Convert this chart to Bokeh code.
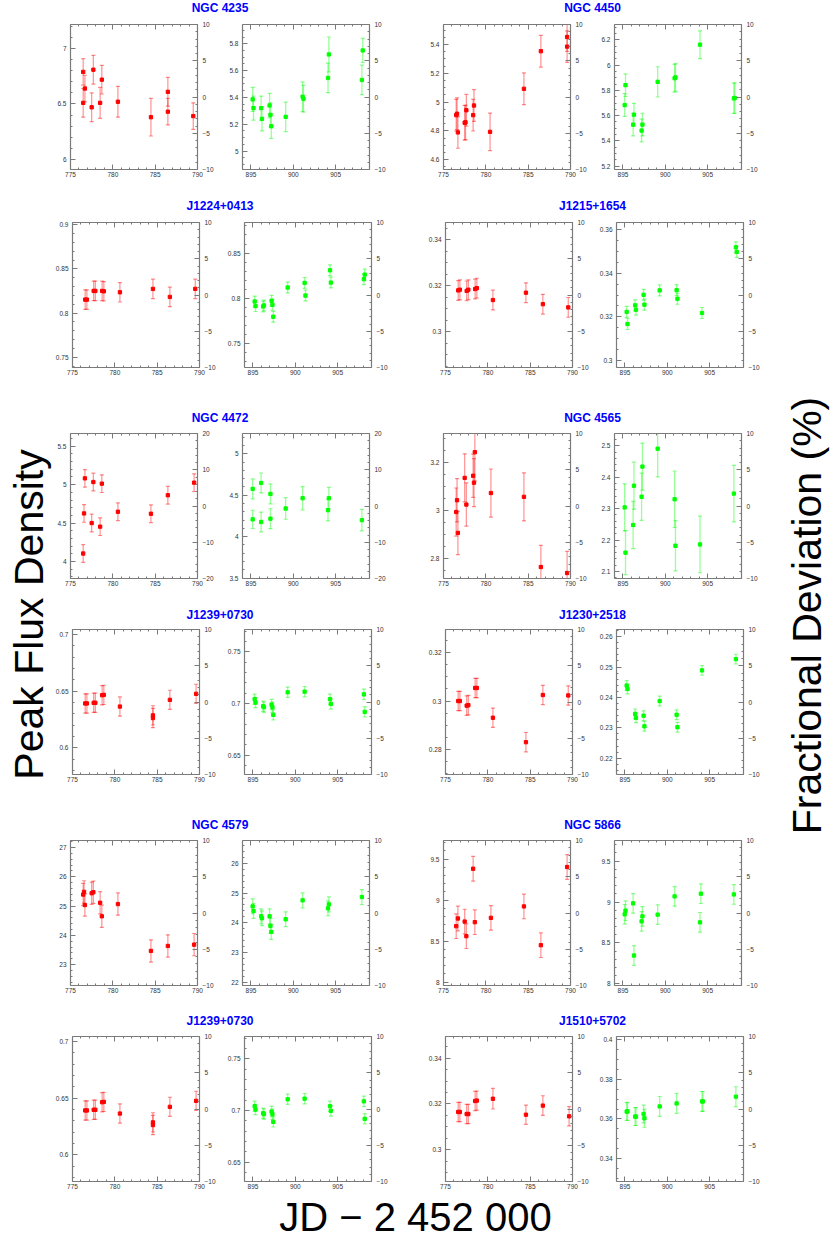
import numpy as np
from bokeh.plotting import figure
from bokeh.models import (Range1d, LinearAxis, FixedTicker, CustomJSTickFormatter, Label,
                          CustomLabelingPolicy)
from bokeh.layouts import row, column
from bokeh.embed import file_html
from bokeh.resources import INLINE

# ---------------- data ----------------
red_xlim = [775, 790]
green_xlim = [894, 909]
red_xticks = [775, 780, 785, 790]
green_xticks = [895, 900, 905]

# NGC 4235
ngc4235_red_jd = [776.5, 776.5, 776.7, 777.5, 777.7, 778.5, 778.7, 780.6, 784.5, 786.5, 786.5, 789.5]
ngc4235_red_flux = [6.51, 6.79, 6.64, 6.47, 6.81, 6.51, 6.72, 6.52, 6.38, 6.61, 6.43, 6.39]
ngc4235_red_err = [0.13, 0.12, 0.12, 0.13, 0.13, 0.14, 0.13, 0.14, 0.17, 0.13, 0.12, 0.12]
ngc4235_red_mean = 6.563
ngc4235_red_ticks = [6, 6.5, 7]
ngc4235_green_jd = [895.2, 895.3, 896.2, 896.3, 897.2, 897.3, 897.4, 899.1, 901.1, 901.2, 904.1, 904.2, 908.1, 908.2]
ngc4235_green_flux = [5.385, 5.32, 5.32, 5.24, 5.34, 5.27, 5.185, 5.255, 5.405, 5.39, 5.545, 5.72, 5.53, 5.75]
ngc4235_green_err = [0.09, 0.09, 0.09, 0.09, 0.09, 0.09, 0.09, 0.11, 0.11, 0.10, 0.11, 0.13, 0.11, 0.09]
ngc4235_green_mean = 5.403
ngc4235_green_ticks = [5, 5.2, 5.4, 5.6, 5.8]

# NGC 4450
ngc4450_red_jd = [776.5, 776.6, 776.7, 777.5, 777.6, 777.7, 778.5, 778.6, 780.5, 784.5, 786.5, 789.6, 789.6]
ngc4450_red_flux = [4.91, 4.92, 4.79, 4.857, 4.86, 4.944, 4.91, 4.977, 4.794, 5.093, 5.354, 5.386, 5.453]
ngc4450_red_err = [0.11, 0.11, 0.11, 0.12, 0.12, 0.11, 0.11, 0.11, 0.13, 0.11, 0.11, 0.11, 0.10]
ngc4450_red_mean = 5.036
ngc4450_red_ticks = [4.6, 4.8, 5, 5.2, 5.4]
ngc4450_green_jd = [895.2, 895.3, 896.2, 896.3, 897.2, 897.3, 899.1, 901.1, 901.2, 904.1, 908.1, 908.2]
ngc4450_green_flux = [5.684, 5.842, 5.529, 5.608, 5.482, 5.529, 5.868, 5.897, 5.903, 6.163, 5.737, 5.74]
ngc4450_green_err = [0.09, 0.09, 0.09, 0.09, 0.09, 0.09, 0.12, 0.11, 0.11, 0.11, 0.12, 0.12]
ngc4450_green_mean = 5.748
ngc4450_green_ticks = [5.2, 5.4, 5.6, 5.8, 6, 6.2]

# J1224+0413
j1224_red_jd = [776.5, 776.7, 777.5, 777.7, 778.5, 778.7, 780.6, 784.5, 786.5, 789.5]
j1224_red_flux = [0.8153, 0.8153, 0.8251, 0.8251, 0.8251, 0.8247, 0.8236, 0.8274, 0.8183, 0.8274]
j1224_red_err = [0.011, 0.011, 0.011, 0.011, 0.011, 0.011, 0.011, 0.011, 0.011, 0.011]
j1224_red_mean = 0.8205
j1224_red_ticks = [0.75, 0.8, 0.85, 0.9]
j1224_green_jd = [895.2, 895.3, 896.2, 896.3, 897.2, 897.3, 897.4, 899.1, 901.1, 901.2, 904.1, 904.2, 908.1, 908.2]
j1224_green_flux = [0.7963, 0.7912, 0.7908, 0.7919, 0.7971, 0.7926, 0.7794, 0.8118, 0.8169, 0.8029, 0.8309, 0.8173, 0.8210, 0.8261]
j1224_green_err = [0.006, 0.006, 0.006, 0.006, 0.006, 0.006, 0.006, 0.006, 0.006, 0.006, 0.006, 0.006, 0.006, 0.006]
j1224_green_mean = 0.8035
j1224_green_ticks = [0.75, 0.8, 0.85]

# J1215+1654
j1215_red_jd = [776.5, 776.7, 777.5, 777.7, 778.5, 778.7, 780.6, 784.5, 786.5, 789.5]
j1215_red_flux = [0.318, 0.3183, 0.3178, 0.3183, 0.3186, 0.319, 0.3138, 0.317, 0.312, 0.3106]
j1215_red_err = [0.0043, 0.0043, 0.0043, 0.0043, 0.0043, 0.0043, 0.0043, 0.0043, 0.0043, 0.0043]
j1215_red_mean = 0.316
j1215_red_ticks = [0.3, 0.32, 0.34]
j1215_green_jd = [895.2, 895.3, 896.2, 896.3, 897.2, 897.3, 899.1, 901.1, 901.2, 904.1, 908.1, 908.2]
j1215_green_flux = [0.3223, 0.3168, 0.3253, 0.3233, 0.3301, 0.3256, 0.3321, 0.3322, 0.3283, 0.3218, 0.3517, 0.3496]
j1215_green_err = [0.0025, 0.0025, 0.0025, 0.0025, 0.0025, 0.0025, 0.0025, 0.0025, 0.0025, 0.0025, 0.0025, 0.0025]
j1215_green_mean = 0.33
j1215_green_ticks = [0.3, 0.32, 0.34, 0.36]

# NGC 4472
ngc4472_red_jd = [776.5, 776.6, 776.7, 777.5, 777.7, 778.5, 778.7, 780.6, 784.5, 786.5, 789.6]
ngc4472_red_flux = [4.103, 4.625, 5.082, 4.5, 5.034, 4.453, 5.013, 4.647, 4.621, 4.862, 5.026]
ngc4472_red_err = [0.115, 0.115, 0.115, 0.115, 0.115, 0.115, 0.115, 0.115, 0.115, 0.115, 0.115]
ngc4472_red_mean = 4.722
ngc4472_red_ticks = [4, 4.5, 5, 5.5]
ngc4472_green_jd = [895.2, 895.2, 896.2, 896.2, 897.3, 897.3, 899.1, 901.1, 904.1, 904.2, 908.1]
ngc4472_green_flux = [4.576, 4.209, 4.648, 4.177, 4.516, 4.217, 4.34, 4.464, 4.32, 4.464, 4.2]
ngc4472_green_err = [0.12, 0.11, 0.12, 0.12, 0.12, 0.12, 0.13, 0.14, 0.13, 0.13, 0.13]
ngc4472_green_mean = 4.37
ngc4472_green_ticks = [3.5, 4, 4.5, 5]

# NGC 4565
ngc4565_red_jd = [776.5, 776.6, 776.7, 777.5, 777.7, 778.5, 778.6, 778.7, 780.6, 784.5, 786.5, 789.6]
ngc4565_red_flux = [2.993, 3.042, 2.906, 3.135, 3.024, 3.144, 3.115, 3.242, 3.072, 3.056, 2.764, 2.739]
ngc4565_red_err = [0.10, 0.09, 0.09, 0.10, 0.09, 0.09, 0.10, 0.12, 0.10, 0.10, 0.09, 0.09]
ngc4565_red_mean = 3.018
ngc4565_red_ticks = [2.8, 3, 3.2]
ngc4565_green_jd = [895.2, 895.3, 896.2, 896.3, 897.2, 897.3, 899.1, 901.1, 901.2, 904.1, 908.1]
ngc4565_green_flux = [2.304, 2.16, 2.248, 2.373, 2.338, 2.434, 2.491, 2.33, 2.182, 2.186, 2.348]
ngc4565_green_err = [0.075, 0.07, 0.075, 0.075, 0.075, 0.075, 0.09, 0.09, 0.08, 0.09, 0.09]
ngc4565_green_mean = 2.3085
ngc4565_green_ticks = [2.1, 2.2, 2.3, 2.4, 2.5]

# J1239+0730
j1239_red_jd = [776.5, 776.7, 777.5, 777.7, 778.5, 778.7, 780.6, 784.5, 784.5, 786.5, 789.6]
j1239_red_flux = [0.6392, 0.6392, 0.6398, 0.6398, 0.6465, 0.6468, 0.6365, 0.6287, 0.6263, 0.6424, 0.6477]
j1239_red_err = [0.0085, 0.0085, 0.0085, 0.0085, 0.0085, 0.0085, 0.0085, 0.0085, 0.0085, 0.0085, 0.0085]
j1239_red_mean = 0.6405
j1239_red_ticks = [0.6, 0.65, 0.7]
j1239_green_jd = [895.2, 895.3, 896.2, 896.3, 897.2, 897.3, 897.4, 899.1, 901.1, 904.1, 904.2, 908.1, 908.2]
j1239_green_flux = [0.7042, 0.701, 0.6974, 0.6965, 0.699, 0.6965, 0.6891, 0.7109, 0.7115, 0.7042, 0.6997, 0.7089, 0.692]
j1239_green_err = [0.005, 0.005, 0.005, 0.005, 0.005, 0.005, 0.005, 0.005, 0.005, 0.005, 0.005, 0.005, 0.005]
j1239_green_mean = 0.7015
j1239_green_ticks = [0.65, 0.7, 0.75]

# J1230+2518
j1230_red_jd = [776.5, 776.7, 777.5, 777.7, 778.5, 778.7, 780.6, 784.5, 786.5, 789.5]
j1230_red_flux = [0.3, 0.3, 0.2981, 0.2983, 0.3054, 0.3054, 0.2931, 0.283, 0.3025, 0.3023]
j1230_red_err = [0.004, 0.004, 0.004, 0.004, 0.004, 0.004, 0.004, 0.004, 0.004, 0.004]
j1230_red_mean = 0.2996
j1230_red_ticks = [0.28, 0.3, 0.32]
j1230_green_jd = [895.2, 895.3, 896.2, 896.3, 897.2, 897.3, 899.1, 901.1, 901.2, 904.1, 908.1]
j1230_green_flux = [0.2439, 0.2428, 0.2346, 0.2333, 0.234, 0.2305, 0.2388, 0.2343, 0.2302, 0.2489, 0.2526]
j1230_green_err = [0.0016, 0.0016, 0.0016, 0.0016, 0.0016, 0.0016, 0.0016, 0.0016, 0.0016, 0.0016, 0.0016]
j1230_green_mean = 0.2385
j1230_green_ticks = [0.22, 0.23, 0.24, 0.25, 0.26]

# NGC 4579
ngc4579_red_jd = [776.5, 776.6, 776.7, 777.5, 777.7, 778.5, 778.7, 780.6, 784.5, 786.5, 789.6]
ngc4579_red_flux = [25.394, 25.485, 25.034, 25.439, 25.473, 25.113, 24.651, 25.068, 23.468, 23.637, 23.682]
ngc4579_red_err = [0.38, 0.38, 0.38, 0.38, 0.38, 0.38, 0.38, 0.38, 0.38, 0.38, 0.38]
ngc4579_red_mean = 24.763
ngc4579_red_ticks = [23, 24, 25, 26, 27]
ngc4579_green_jd = [895.2, 895.3, 896.2, 896.3, 897.2, 897.3, 897.4, 899.1, 901.1, 904.1, 904.2, 908.1]
ngc4579_green_flux = [24.554, 24.398, 24.22, 24.153, 24.22, 23.897, 23.696, 24.12, 24.755, 24.487, 24.621, 24.866]
ngc4579_green_err = [0.25, 0.25, 0.25, 0.25, 0.25, 0.25, 0.25, 0.25, 0.25, 0.25, 0.25, 0.25]
ngc4579_green_mean = 24.33
ngc4579_green_ticks = [22, 23, 24, 25, 26]

# NGC 5866
ngc5866_red_jd = [776.5, 776.7, 777.5, 777.7, 778.5, 778.7, 780.6, 784.5, 786.5, 789.6]
ngc5866_red_flux = [8.682, 8.776, 8.739, 8.56, 9.383, 8.731, 8.784, 8.923, 8.45, 9.404]
ngc5866_red_err = [0.15, 0.15, 0.15, 0.15, 0.15, 0.15, 0.15, 0.15, 0.15, 0.15]
ngc5866_red_mean = 8.843
ngc5866_red_ticks = [8, 8.5, 9, 9.5]
ngc5866_green_jd = [895.2, 895.3, 896.2, 896.3, 897.2, 897.3, 899.1, 901.1, 904.1, 904.2, 908.1]
ngc5866_green_flux = [8.85, 8.894, 8.984, 8.346, 8.764, 8.825, 8.846, 9.069, 8.752, 9.102, 9.093]
ngc5866_green_err = [0.12, 0.12, 0.12, 0.12, 0.12, 0.12, 0.12, 0.12, 0.12, 0.12, 0.12]
ngc5866_green_mean = 8.866
ngc5866_green_ticks = [8, 8.5, 9, 9.5]

# J1510+5702
j1510_red_jd = [776.5, 776.7, 777.5, 777.7, 778.5, 778.7, 780.6, 784.5, 786.5, 789.6]
j1510_red_flux = [0.3165, 0.3165, 0.3156, 0.3156, 0.3213, 0.3215, 0.3223, 0.3153, 0.3193, 0.3146]
j1510_red_err = [0.0042, 0.0042, 0.0042, 0.0042, 0.0042, 0.0042, 0.0045, 0.0042, 0.0043, 0.0042]
j1510_red_mean = 0.3178
j1510_red_ticks = [0.3, 0.32, 0.34]
j1510_green_jd = [895.2, 895.3, 896.2, 896.3, 897.2, 897.3, 899.1, 901.1, 904.1, 904.2, 908.1]
j1510_green_flux = [0.3637, 0.3638, 0.3612, 0.3612, 0.3625, 0.3603, 0.3663, 0.3678, 0.3688, 0.3688, 0.3712]
j1510_green_err = [0.0045, 0.0045, 0.0045, 0.0045, 0.0045, 0.0045, 0.005, 0.005, 0.005, 0.005, 0.005]
j1510_green_mean = 0.365
j1510_green_ticks = [0.34, 0.36, 0.38, 0.4]

SOURCES = {
    "NGC 4235": dict(frac=10, red=(ngc4235_red_jd, ngc4235_red_flux, ngc4235_red_err, ngc4235_red_mean, ngc4235_red_ticks, 0.1),
                     green=(ngc4235_green_jd, ngc4235_green_flux, ngc4235_green_err, ngc4235_green_mean, ngc4235_green_ticks, 0.05)),
    "NGC 4450": dict(frac=10, red=(ngc4450_red_jd, ngc4450_red_flux, ngc4450_red_err, ngc4450_red_mean, ngc4450_red_ticks, 0.05),
                     green=(ngc4450_green_jd, ngc4450_green_flux, ngc4450_green_err, ngc4450_green_mean, ngc4450_green_ticks, 0.05)),
    "J1224+0413": dict(frac=10, red=(j1224_red_jd, j1224_red_flux, j1224_red_err, j1224_red_mean, j1224_red_ticks, 0.01),
                       green=(j1224_green_jd, j1224_green_flux, j1224_green_err, j1224_green_mean, j1224_green_ticks, 0.01)),
    "J1215+1654": dict(frac=10, red=(j1215_red_jd, j1215_red_flux, j1215_red_err, j1215_red_mean, j1215_red_ticks, 0.005),
                       green=(j1215_green_jd, j1215_green_flux, j1215_green_err, j1215_green_mean, j1215_green_ticks, 0.005)),
    "NGC 4472": dict(frac=20, red=(ngc4472_red_jd, ngc4472_red_flux, ngc4472_red_err, ngc4472_red_mean, ngc4472_red_ticks, 0.1),
                     green=(ngc4472_green_jd, ngc4472_green_flux, ngc4472_green_err, ngc4472_green_mean, ngc4472_green_ticks, 0.1)),
    "NGC 4565": dict(frac=10, red=(ngc4565_red_jd, ngc4565_red_flux, ngc4565_red_err, ngc4565_red_mean, ngc4565_red_ticks, 0.05),
                     green=(ngc4565_green_jd, ngc4565_green_flux, ngc4565_green_err, ngc4565_green_mean, ngc4565_green_ticks, 0.02)),
    "J1239+0730": dict(frac=10, red=(j1239_red_jd, j1239_red_flux, j1239_red_err, j1239_red_mean, j1239_red_ticks, 0.01),
                       green=(j1239_green_jd, j1239_green_flux, j1239_green_err, j1239_green_mean, j1239_green_ticks, 0.01)),
    "J1230+2518": dict(frac=10, red=(j1230_red_jd, j1230_red_flux, j1230_red_err, j1230_red_mean, j1230_red_ticks, 0.005),
                       green=(j1230_green_jd, j1230_green_flux, j1230_green_err, j1230_green_mean, j1230_green_ticks, 0.002)),
    "NGC 4579": dict(frac=10, red=(ngc4579_red_jd, ngc4579_red_flux, ngc4579_red_err, ngc4579_red_mean, ngc4579_red_ticks, 0.2),
                     green=(ngc4579_green_jd, ngc4579_green_flux, ngc4579_green_err, ngc4579_green_mean, ngc4579_green_ticks, 0.2)),
    "NGC 5866": dict(frac=10, red=(ngc5866_red_jd, ngc5866_red_flux, ngc5866_red_err, ngc5866_red_mean, ngc5866_red_ticks, 0.1),
                     green=(ngc5866_green_jd, ngc5866_green_flux, ngc5866_green_err, ngc5866_green_mean, ngc5866_green_ticks, 0.1)),
    "J1510+5702": dict(frac=10, red=(j1510_red_jd, j1510_red_flux, j1510_red_err, j1510_red_mean, j1510_red_ticks, 0.005),
                       green=(j1510_green_jd, j1510_green_flux, j1510_green_err, j1510_green_mean, j1510_green_ticks, 0.005)),
}

GRID = [("NGC 4235", "NGC 4450"), ("J1224+0413", "J1215+1654"), ("NGC 4472", "NGC 4565"),
        ("J1239+0730", "J1230+2518"), ("NGC 4579", "NGC 5866"), ("J1239+0730", "J1510+5702")]

Y_LABEL = "Peak Flux Density"
Y2_LABEL = "Fractional Deviation (%)"
X_LABEL = "JD \u2212 2 452 000"

# ---------------- styling / layout ----------------
FONT = "Liberation Sans"
RED = "#ff0000"
GREEN = "#00ff00"
AXC = "#7a7a7a"
FRAME_W, FRAME_H = 127, 145
TOP_B, RIGHT_B = 4, 20
BOT_BS = [16, 16, 16, 16, 16, 12]
LEFT_BORDERS = [18, 25, 54, 24]
STRIP_H = [20, 33, 46, 31, 46, 31]
TITLE_C = [7.5, 20, 34, 20, 34, 19]
LEFT_W = 52
GRID_W = sum(LEFT_BORDERS) + 4 * (FRAME_W + RIGHT_B)
RIGHT_W = 830 - LEFT_W - GRID_W
GRID_H = sum(STRIP_H) + sum(TOP_B + FRAME_H + b for b in BOT_BS)
BOTTOM_H = 1239 - GRID_H

fmt = CustomJSTickFormatter(code="const v = Math.round(tick*1e6)/1e6; return v.toString().replace('-', '\u2212');")
no_labels = CustomLabelingPolicy(code="for (let i = 0; i < indices.size; i++) { indices.unset(i); } return indices;")


def minor(lo, hi, step):
    k0 = int(np.ceil(lo / step - 1e-9))
    k1 = int(np.floor(hi / step + 1e-9))
    return [round(k * step, 6) for k in range(k0, k1 + 1)]


def style(ax, ticker, standoff, size="6.5px"):
    ax.ticker = ticker
    ax.formatter = fmt
    ax.axis_line_color = AXC
    ax.axis_line_width = 1.2
    ax.major_tick_line_color = AXC
    ax.minor_tick_line_color = AXC
    ax.major_tick_in = 5
    ax.major_tick_out = 0
    ax.minor_tick_in = 2
    ax.minor_tick_out = 0
    ax.major_label_text_font = FONT
    ax.major_label_text_font_size = size
    ax.major_label_text_color = "#333333"
    ax.major_label_standoff = standoff


def make_panel(spec, frac, xlim, xticks, color, left_border, bot_b):
    jd, flux, err, mean, yticks, ystep = spec
    ylo, yhi = mean * (1 - frac / 100.0), mean * (1 + frac / 100.0)
    p = figure(frame_width=FRAME_W, frame_height=FRAME_H,
               x_range=Range1d(xlim[0], xlim[1]), y_range=Range1d(ylo, yhi),
               output_backend="svg", toolbar_location=None,
               min_border_left=left_border, min_border_right=RIGHT_B,
               min_border_top=TOP_B, min_border_bottom=bot_b)
    p.xgrid.visible = False
    p.ygrid.visible = False
    p.outline_line_color = None
    p.extra_y_ranges = {"frac": Range1d(-frac, frac)}
    right = LinearAxis(y_range_name="frac")
    p.add_layout(right, "right")
    top = LinearAxis(major_label_policy=no_labels)
    p.add_layout(top, "above")

    xt = FixedTicker(ticks=xticks, minor_ticks=minor(xlim[0], xlim[1], 1))
    yt = FixedTicker(ticks=yticks, minor_ticks=minor(ylo, yhi, ystep))
    ft = FixedTicker(ticks=[-frac, -frac / 2, 0, frac / 2, frac], minor_ticks=minor(-frac, frac, frac / 10))
    style(p.below[0], xt, 2)
    style(top, xt, 0, "1px")
    style(p.left[0], yt, 4)
    style(right, ft, 5)

    lo = [f - e for f, e in zip(flux, err)]
    hi = [f + e for f, e in zip(flux, err)]
    p.segment(x0=jd, y0=lo, x1=jd, y1=hi, line_color=color, line_alpha=0.4, line_width=1.3)
    p.scatter(x=list(jd) + list(jd), y=lo + hi, marker="dash", size=4,
              line_color=color, line_alpha=0.45, line_width=1.2)
    p.scatter(x=jd, y=flux, marker="square", size=3.3, color=color)
    return p


def blank(w, h):
    p = figure(width=w, height=h, x_range=Range1d(0, w), y_range=Range1d(0, h),
               output_backend="svg", toolbar_location=None,
               x_axis_location=None, y_axis_location=None, min_border=0)
    p.xgrid.visible = False
    p.ygrid.visible = False
    p.outline_line_color = None
    return p


pair_centers = (LEFT_BORDERS[0] + (FRAME_W + RIGHT_B + LEFT_BORDERS[1] + FRAME_W) / 2.0,
                (LEFT_BORDERS[0] + FRAME_W + RIGHT_B + LEFT_BORDERS[1] + FRAME_W + RIGHT_B + LEFT_BORDERS[2])
                + (FRAME_W + RIGHT_B + LEFT_BORDERS[3] + FRAME_W) / 2.0)

children = []
for i, (lname, rname) in enumerate(GRID):
    s = blank(GRID_W, STRIP_H[i])
    for cx, nm in zip(pair_centers, (lname, rname)):
        s.add_layout(Label(x=cx, y=STRIP_H[i] - TITLE_C[i], text=nm, text_align="center",
                           text_baseline="middle", text_font=FONT, text_font_size="12px",
                           text_font_style="bold", text_color="#0000ff"))
    children.append(s)
    figs = []
    for j, nm in enumerate((lname, rname)):
        src = SOURCES[nm]
        figs.append(make_panel(src["red"], src["frac"], red_xlim, red_xticks, RED, LEFT_BORDERS[2 * j], BOT_BS[i]))
        figs.append(make_panel(src["green"], src["frac"], green_xlim, green_xticks, GREEN, LEFT_BORDERS[2 * j + 1], BOT_BS[i]))
    children.append(row(*figs))

grid_col = column(*children)

left = blank(LEFT_W, GRID_H)
left.add_layout(Label(x=28, y=GRID_H - 614, text=Y_LABEL, angle=np.pi / 2, text_align="center",
                      text_baseline="middle", text_font=FONT, text_font_size="41px", text_color="black"))
right = blank(RIGHT_W, GRID_H)
right.add_layout(Label(x=43, y=GRID_H - 615, text=Y2_LABEL, angle=np.pi / 2, text_align="center",
                       text_baseline="middle", text_font=FONT, text_font_size="41px", text_color="black"))
bottom = blank(830, BOTTOM_H)
bottom.add_layout(Label(x=415, y=BOTTOM_H / 2.0, text=X_LABEL, text_align="center", text_baseline="middle",
                        text_font=FONT, text_font_size="40px", text_color="black"))

layout = column(row(left, grid_col, right), bottom)
open("out.html", "w").write(file_html(layout, INLINE, title="Light curves"))
